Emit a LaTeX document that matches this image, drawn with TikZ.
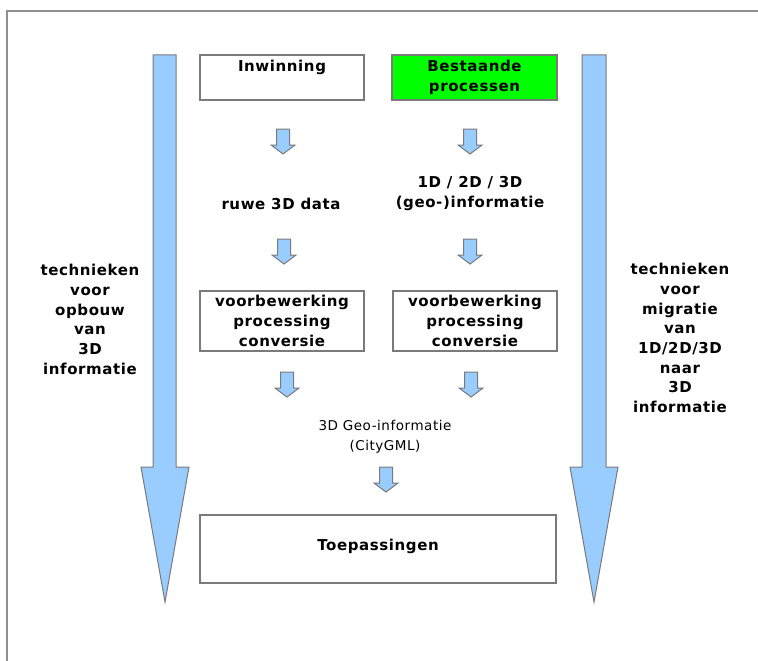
\documentclass[tikz,border=0pt]{standalone}
\usepackage{fontspec}
\setmainfont{DejaVu Sans}[LetterSpace=4]
\definecolor{arrowblue}{HTML}{99CCFF}
\definecolor{edgegray}{HTML}{7A7A7A}
\definecolor{framegray}{HTML}{8E8E8E}
\definecolor{boxgreen}{HTML}{00FF00}
\tikzset{
  arrowshape/.style={fill=arrowblue, draw=edgegray, line width=1pt, line join=miter},
  boxnode/.style={draw=edgegray, line width=1.5pt, fill=white, inner sep=0pt, align=center,
    font=\fontsize{15}{19.7}\selectfont\bfseries},
  boldtext/.style={align=center, inner sep=0pt, font=\fontsize{15}{19.7}\selectfont\bfseries},
  plaintext/.style={align=center, inner sep=0pt, font=\fontsize{13.5}{20}\selectfont},
  pics/smallarrow/.style={code={
    \draw[arrowshape] (-6.5,0) -- (6.5,0) -- (6.5,16) -- (12,16) -- (0,25) -- (-12,16) -- (-6.5,16) -- cycle;}}
}
\begin{document}
\begin{tikzpicture}[x=1pt,y=-1pt]
\useasboundingbox (0,0) rectangle (758,661);
% frame
\draw[framegray, line width=2pt] (7,661) -- (7,11) -- (758,11);

% big arrows
\draw[arrowshape] (153,55) -- (176,55) -- (176,467) -- (189,467) -- (165,602) -- (141,467) -- (153,467) -- cycle;
\draw[arrowshape] (582,55) -- (606,55) -- (606,467) -- (618,467) -- (594,602) -- (570,467) -- (582,467) -- cycle;

% side texts
\node[boldtext] (leftlbl) at (90,319.5) {technieken\\voor\\opbouw\\van\\3D\\informatie};
\node[boldtext] (rightlbl) at (680,338) {technieken\\voor\\migratie\\van\\1D/2D/3D\\naar\\3D\\informatie};

% top boxes
\node[boxnode, minimum width=164pt, minimum height=45pt] (inw) at (282,77.5) {};
\node[boldtext] (inwtxt) at (282,67) {Inwinning};
\node[boxnode, fill=boxgreen, minimum width=165pt, minimum height=45pt] (best) at (474.5,77.5) {Bestaande\\processen};

% small arrows row 1
\pic (a1) at (283,129) {smallarrow};
\pic (a2) at (470,129) {smallarrow};

% middle texts
\node[boldtext] (ruwe) at (281,204) {ruwe 3D data};
\node[boldtext] (geo) at (470,193.5) {1D / 2D / 3D\\(geo-)informatie};

% small arrows row 2
\pic (a3) at (284,239) {smallarrow};
\pic (a4) at (470,239) {smallarrow};

% processing boxes
\node[boxnode, minimum width=164pt, minimum height=60pt] (voorl) at (282,321) {voorbewerking\\processing\\conversie};
\node[boxnode, minimum width=164pt, minimum height=60pt] (voorr) at (475,321) {voorbewerking\\processing\\conversie};

% small arrows row 3
\pic (a5) at (287,372) {smallarrow};
\pic (a6) at (471,372) {smallarrow};

% 3D Geo-informatie
\node[plaintext] (city) at (385,437) {3D Geo-informatie\\(CityGML)};

% small arrow row 4
\pic (a7) at (386,467) {smallarrow};

% Toepassingen
\node[boxnode, minimum width=356pt, minimum height=68pt] (toep) at (378,549) {};
\node[boldtext] (toeptxt) at (378,546) {Toepassingen};
\end{tikzpicture}
\end{document}
